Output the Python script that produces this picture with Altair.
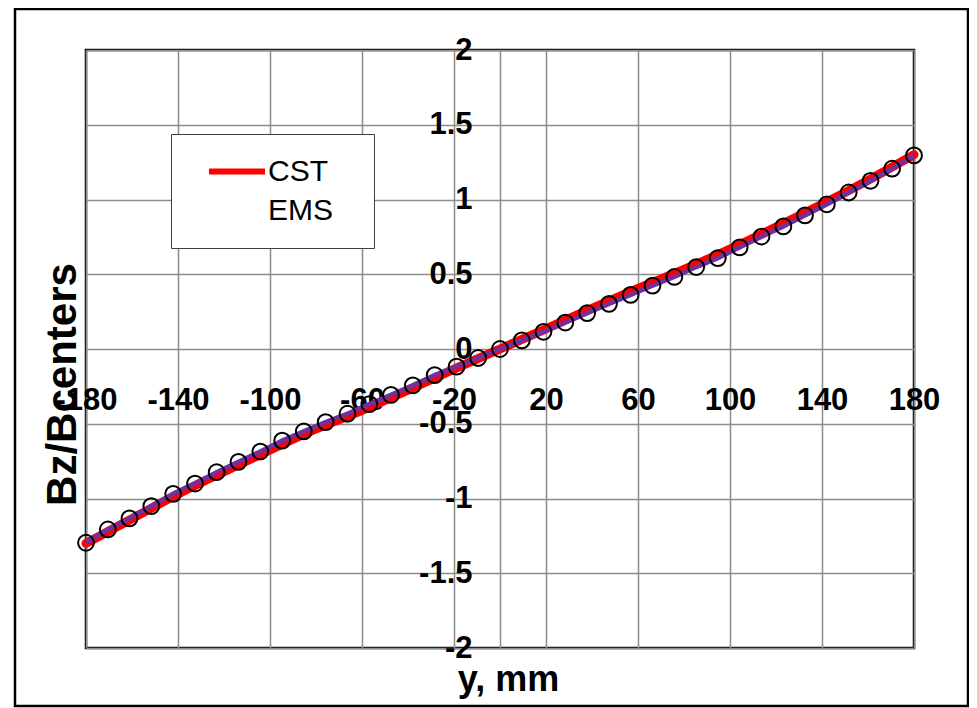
import altair as alt
import pandas as pd

# EMS (circles + purple line)
ems_x = [-180.0, -170.5, -161.1, -151.6, -142.1, -132.6, -123.2, -113.7, -104.2, -94.7,
         -85.3, -75.8, -66.3, -56.8, -47.4, -37.9, -28.4, -18.9, -9.5, 0.0,
         9.5, 18.9, 28.4, 37.9, 47.4, 56.8, 66.3, 75.8, 85.3, 94.7,
         104.2, 113.7, 123.2, 132.6, 142.1, 151.6, 161.1, 170.5, 180.0]
ems_y = [-1.296, -1.207, -1.133, -1.051, -0.969, -0.900, -0.824, -0.755, -0.686, -0.613,
         -0.551, -0.489, -0.433, -0.369, -0.307, -0.243, -0.175, -0.118, -0.060, 0.0,
         0.058, 0.115, 0.177, 0.240, 0.302, 0.362, 0.424, 0.482, 0.548, 0.608,
         0.680, 0.752, 0.820, 0.894, 0.968, 1.047, 1.125, 1.206, 1.295]

# CST (red line)
cst_x = [-180, -160, -140, -120, -100, -80, -60, -40, -20, 0,
         20, 40, 60, 80, 100, 120, 140, 160, 180]
cst_y = [-1.300, -1.135, -0.970, -0.820, -0.675, -0.535, -0.410, -0.275, -0.135, 0.0,
         0.135, 0.272, 0.405, 0.532, 0.668, 0.815, 0.968, 1.128, 1.300]

x_ticks = [-180, -140, -100, -60, -20, 0, 20, 60, 100, 140, 180]
y_ticks = [-2, -1.5, -1, -0.5, 0, 0.5, 1, 1.5, 2]
series_names = ["CST", "EMS"]

FONT = "Liberation Sans"
W, H = 828, 598

ems_df = pd.DataFrame({"x": ems_x, "y": ems_y})
cst_df = pd.DataFrame({"x": cst_x, "y": cst_y, "series": "CST"})

x_enc = alt.X(
    "x:Q",
    scale=alt.Scale(domain=[-180, 180], nice=False, zero=False),
    axis=alt.Axis(
        values=x_ticks,
        labelExpr="datum.value == 0 ? '' : '' + datum.value",
        offset=-(H / 2),
        domain=False,
        ticks=False,
        tickSize=0,
        grid=True,
        gridColor="#8c8c8c",
        gridWidth=1.5,
        labelFont=FONT,
        labelFontSize=31,
        labelFontWeight="bold",
        labelColor="black",
        labelBaseline="alphabetic",
        labelPadding=60,
        labelFlush=False,
        labelOverlap=False,
        title="y, mm",
        titleFont=FONT,
        titleFontSize=36,
        titleFontWeight="bold",
        titleColor="black",
        titleX=422,
        titleY=341,
        titleAlign="center",
        titleBaseline="alphabetic",
    ),
)

y_enc = alt.Y(
    "y:Q",
    scale=alt.Scale(domain=[-2, 2], nice=False, zero=False),
    axis=alt.Axis(
        values=y_ticks,
        labelExpr="'' + datum.value",
        offset=-(W / 2),
        domain=False,
        ticks=False,
        tickSize=0,
        grid=True,
        gridColor="#8c8c8c",
        gridWidth=1.5,
        labelFont=FONT,
        labelFontSize=31,
        labelFontWeight="bold",
        labelColor="black",
        labelPadding=28,
        labelFlush=False,
        labelOverlap=False,
        title="Bz/Bcenters",
        titleFont=FONT,
        titleFontSize=42,
        titleFontWeight="bold",
        titleColor="black",
        titleAngle=270,
        titleX=-425,
        titleY=334,
        titleAlign="center",
        titleBaseline="alphabetic",
    ),
)

red = alt.Chart(cst_df).mark_line(strokeWidth=9, interpolate="monotone", strokeCap="round").encode(
    x=x_enc,
    y=y_enc,
    color=alt.Color(
        "series:N",
        scale=alt.Scale(domain=series_names, range=["#ff0000", "rgba(0,0,0,0)"]),
        legend=alt.Legend(
            orient="none",
            legendX=85,
            legendY=84,
            title=None,
            symbolType="stroke",
            symbolSize=3136,
            symbolStrokeWidth=6,
            labelFont=FONT,
            labelFontSize=30,
            labelColor="black",
            labelOffset=0,
            labelExpr="datum.label + '\u2800'",
            padding=18,
            symbolOffset=17,
            clipHeight=39,
            rowPadding=0,
            strokeColor="#404040",
            fillColor="white",
        ),
    ),
)

purple = alt.Chart(ems_df).mark_line(color="#7030a0", strokeWidth=4.5).encode(x=x_enc, y=y_enc)
circles = alt.Chart(ems_df).mark_point(
    shape="circle", filled=False, color="black", strokeWidth=2, size=250, opacity=1
).encode(x=x_enc, y=y_enc)

frame = alt.Chart(pd.DataFrame({"f": [0]})).mark_rect(
    fillOpacity=0, stroke="black", strokeWidth=2.5
).encode(x=alt.value(-71), x2=alt.value(882), y=alt.value(-41), y2=alt.value(656))

chart = (
    alt.layer(frame, red, purple, circles)
    .properties(
        width=W,
        height=H,
        padding={"left": 78, "top": 42, "right": 55, "bottom": 60},
        autosize=alt.AutoSizeParams(type="none"),
        background="white",
    )
    .configure_view(stroke="black", strokeWidth=2.5)
)

chart.save("out.html", embed_options={"renderer": "svg", "actions": False})
